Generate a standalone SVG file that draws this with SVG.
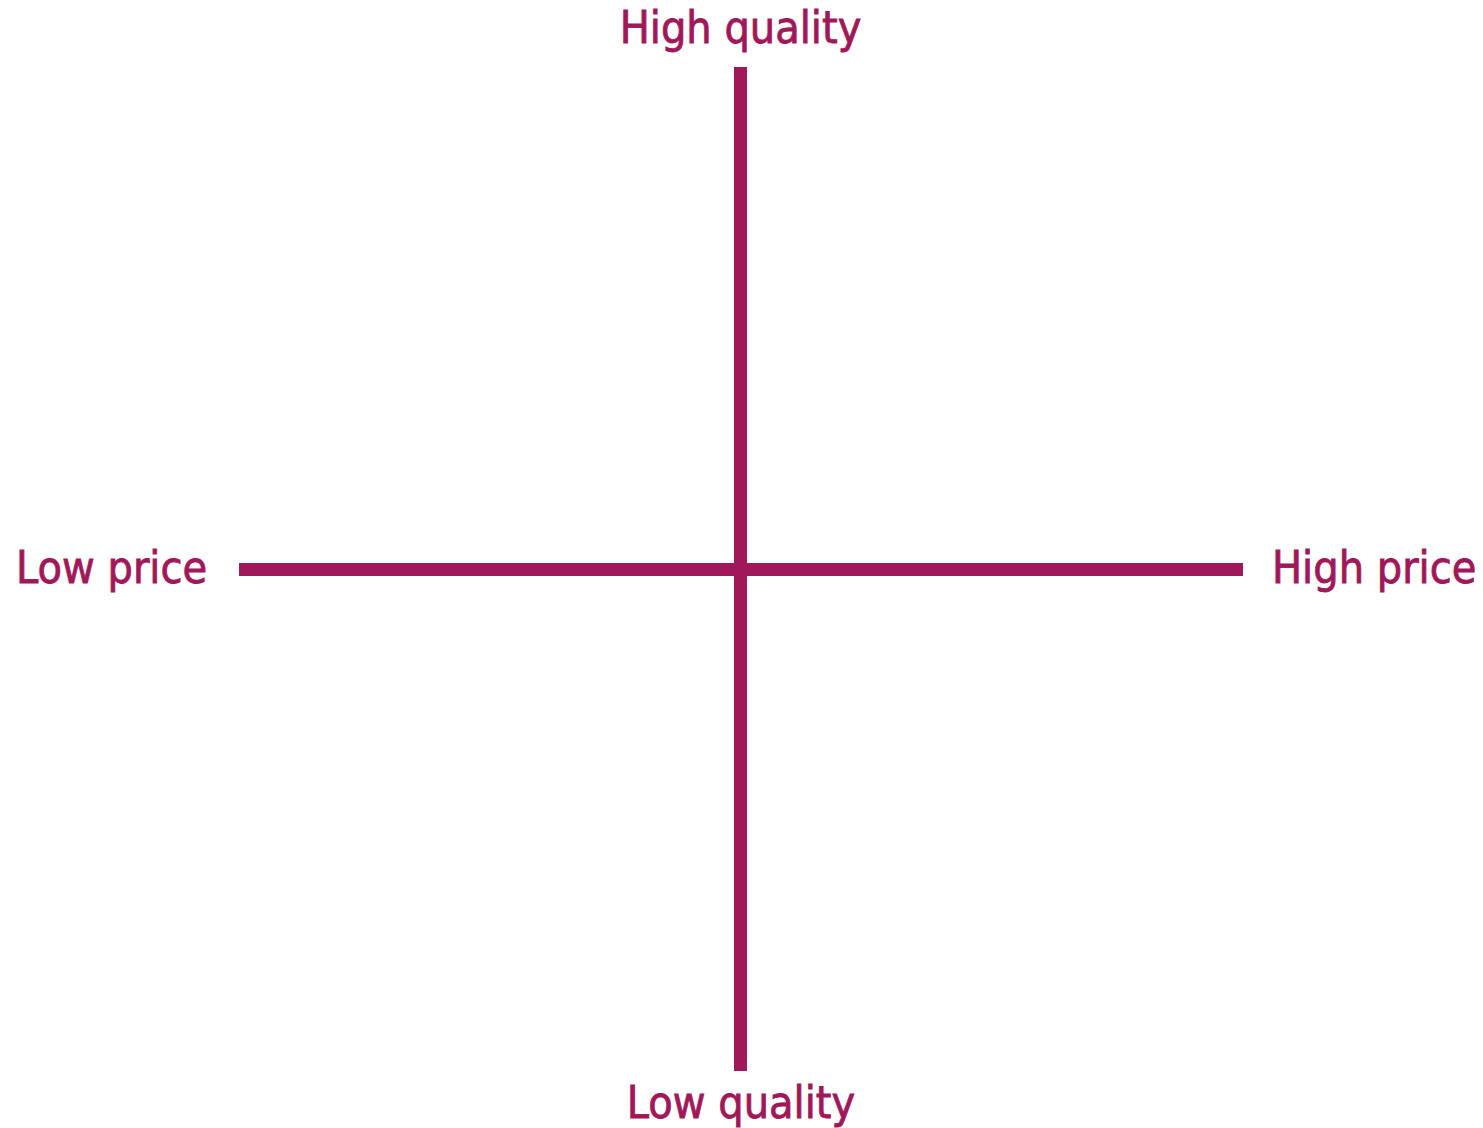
<svg xmlns="http://www.w3.org/2000/svg" width="1483" height="1128" viewBox="0 0 1483 1128">
<style>
.lbl{font-family:"DejaVu Sans Condensed","Roboto",sans-serif;font-size:44.5px;fill:#A0185A;stroke:#A0185A;stroke-width:0.8px;font-weight:normal}
.axis{stroke:#A0185A;stroke-width:13;fill:none}
</style>
<rect width="1483" height="1128" fill="#FFFFFF"/>
<g id="connectors">
<line class="axis" x1="740.5" y1="67" x2="740.5" y2="1071"/>
<line class="axis" x1="239" y1="569.5" x2="1243" y2="569.5"/>
</g>
<g id="high-quality"><text class="lbl" x="740.5" y="43" text-anchor="middle">High quality</text></g>
<g id="low-quality"><text class="lbl" x="741" y="1118" text-anchor="middle">Low quality</text></g>
<g id="low-price"><text class="lbl" x="16" y="583">Low price</text></g>
<g id="high-price"><text class="lbl" x="1272" y="583">High price</text></g>
</svg>
